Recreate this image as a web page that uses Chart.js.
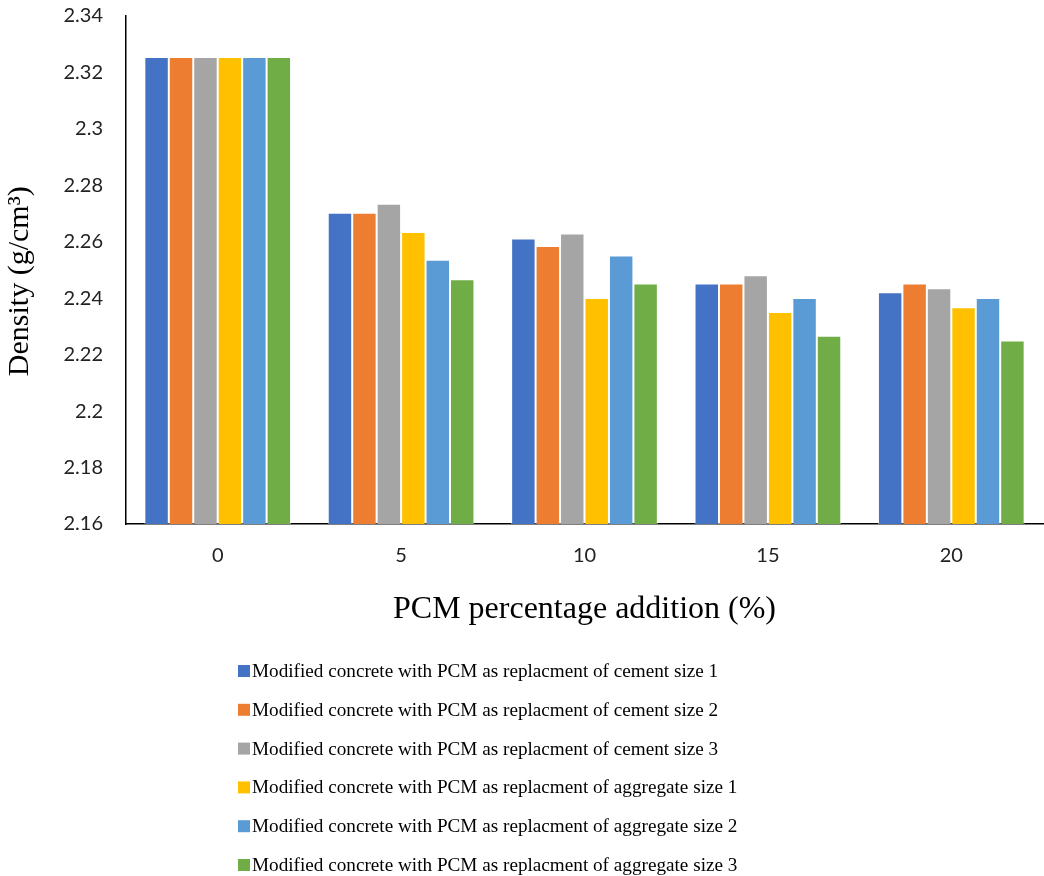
<!DOCTYPE html>
<html>
<head>
<meta charset="utf-8">
<script src="https://cdn.jsdelivr.net/npm/chart.js@4/dist/chart.umd.min.js"></script>
<style>
  html, body { margin: 0; padding: 0; background: #fff; }
  #wrap { width: 1044px; height: 876px; position: relative; }
</style>
</head>
<body>
<div id="wrap"><canvas id="c" width="1044" height="876"></canvas></div>
<script>
const categories = ['0', '5', '10', '15', '20'];
const seriesNames = [
  'Modified concrete with PCM as replacment of cement size 1',
  'Modified concrete with PCM as replacment of cement size 2',
  'Modified concrete with PCM as replacment of cement size 3',
  'Modified concrete with PCM as replacment of aggregate size 1',
  'Modified concrete with PCM as replacment of aggregate size 2',
  'Modified concrete with PCM as replacment of aggregate size 3'
];
const cementSize1    = [2.3255, 2.2703, 2.2612, 2.2452, 2.2421];
const cementSize2    = [2.3255, 2.2703, 2.2585, 2.2452, 2.2452];
const cementSize3    = [2.3255, 2.2735, 2.2629, 2.2481, 2.2435];
const aggregateSize1 = [2.3255, 2.2635, 2.2401, 2.2351, 2.2368];
const aggregateSize2 = [2.3255, 2.2536, 2.2551, 2.2401, 2.2401];
const aggregateSize3 = [2.3255, 2.2467, 2.2452, 2.2267, 2.2250];
const yTickValues = [2.16, 2.18, 2.2, 2.22, 2.24, 2.26, 2.28, 2.3, 2.32, 2.34];
const colors = ['#4472C4', '#ED7D31', '#A5A5A5', '#FFC000', '#5B9BD5', '#70AD47'];
const seriesValues = [cementSize1, cementSize2, cementSize3, aggregateSize1, aggregateSize2, aggregateSize3];

const legendPlugin = {
  id: 'listLegend',
  afterDraw(chart, args, opts) {
    const ctx = chart.ctx;
    ctx.save();
    ctx.font = opts.font;
    ctx.textBaseline = 'middle';
    ctx.textAlign = 'left';
    chart.data.datasets.forEach((ds, i) => {
      const y = opts.top + i * opts.spacing;
      ctx.fillStyle = ds.backgroundColor;
      ctx.fillRect(opts.left, y - opts.box / 2, opts.box, opts.box);
      ctx.fillStyle = opts.color;
      ctx.fillText(ds.label, opts.left + opts.box + opts.gap, y + 1);
    });
    ctx.restore();
  }
};

new Chart(document.getElementById('c'), {
  type: 'bar',
  data: {
    labels: categories,
    datasets: seriesNames.map((name, i) => ({
      label: name,
      data: seriesValues[i],
      backgroundColor: colors[i],
      borderColor: 'rgba(255,255,255,0.55)',
      borderWidth: 1,
      categoryPercentage: 0.8,
      barPercentage: 1.0
    }))
  },
  options: {
    responsive: false,
    animation: false,
    devicePixelRatio: 1,
    layout: { padding: { top: 16, right: 1, bottom: 236, left: 0 } },
    plugins: {
      legend: { display: false },
      tooltip: { enabled: false },
      listLegend: {
        left: 238, top: 671, spacing: 38.8, box: 12, gap: 2,
        font: '19.2px "Liberation Serif", "Times New Roman", serif',
        color: '#000'
      }
    },
    scales: {
      x: {
        grid: { display: false, drawTicks: false },
        border: { display: true, color: '#000', width: 1.5 },
        ticks: { color: '#222', padding: 20, font: { family: 'Lato, "Open Sans", sans-serif', size: 20 } },
        title: {
          display: true,
          text: 'PCM percentage addition (%)',
          color: '#000',
          font: { family: '"Liberation Serif", "Times New Roman", serif', size: 32 },
          padding: { top: 0, bottom: 11 }
        },
        afterFit: s => { s.height = 116; s.paddingLeft = 0; s.paddingRight = 0; }
      },
      y: {
        min: 2.16,
        max: 2.34,
        afterBuildTicks: s => { s.ticks = yTickValues.map(v => ({ value: v })); },
        grid: { display: false, drawTicks: false },
        border: { display: true, color: '#000', width: 1.5 },
        ticks: {
          color: '#222',
          padding: 23,
          font: { family: 'Lato, "Open Sans", sans-serif', size: 20 },
          callback: v => String(parseFloat(Number(v).toFixed(2)))
        },
        title: {
          display: true,
          text: 'Density (g/cm³)   ',
          color: '#000',
          font: { family: '"Liberation Serif", "Times New Roman", serif', size: 30 },
          padding: { top: 2, bottom: 0 }
        },
        afterFit: s => { s.width = 126; s.paddingTop = 0; s.paddingBottom = 0; }
      }
    }
  },
  plugins: [legendPlugin]
});
</script>
</body>
</html>
